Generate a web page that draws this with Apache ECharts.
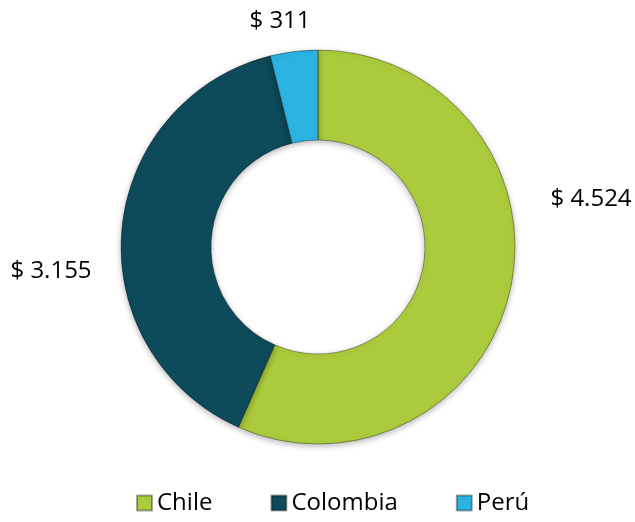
<!DOCTYPE html>
<html>
<head>
<meta charset="utf-8">
<script src="https://cdn.jsdelivr.net/npm/echarts@6/dist/echarts.min.js"></script>
<style>
  html, body { margin: 0; padding: 0; background: #fff; }
  #chart { width: 635px; height: 522px; }
</style>
</head>
<body>
<div id="chart"></div>
<script>
var countries = ['Chile', 'Colombia', 'Perú'];
var amounts = [4524, 3155, 311];
var labels = ['$ 4.524', '$ 3.155', '$ 311'];

var colors = ['#abca3c', '#0d4b5a', '#2bb3e2'];
var labelSpots = [[591, 199], [51, 271], [280, 21]];

var chart = echarts.init(document.getElementById('chart'));

chart.setOption({
    animation: false,
    color: colors,
    legend: {
        bottom: 2,
        left: 131,
        itemWidth: 15,
        itemHeight: 15,
        itemGap: 58,
        icon: 'rect',
        textStyle: { fontFamily: 'Open Sans', fontSize: 24, color: '#000' },
        data: countries
    },
    series: [{
        type: 'pie',
        center: [318, 247],
        radius: [107, 197],
        startAngle: 90,
        clockwise: true,
        label: {
            show: true,
            position: 'outside',
            formatter: function (p) { return labels[p.dataIndex]; },
            fontFamily: 'Open Sans',
            fontSize: 24,
            color: '#000',
            overflow: 'none'
        },
        labelLine: { show: false },
        labelLayout: function (p) {
            var s = labelSpots[p.dataIndex];
            return { x: s[0], y: s[1], align: 'center', verticalAlign: 'middle' };
        },
        itemStyle: {
            borderColor: 'rgba(0,0,0,0.35)',
            borderWidth: 1,
            shadowBlur: 6,
            shadowColor: 'rgba(0,0,0,0.3)',
            shadowOffsetY: 2
        },
        emphasis: { disabled: true },
        data: countries.map(function (c, i) {
            return { name: c, value: amounts[i] };
        })
    }]
});
</script>
</body>
</html>
